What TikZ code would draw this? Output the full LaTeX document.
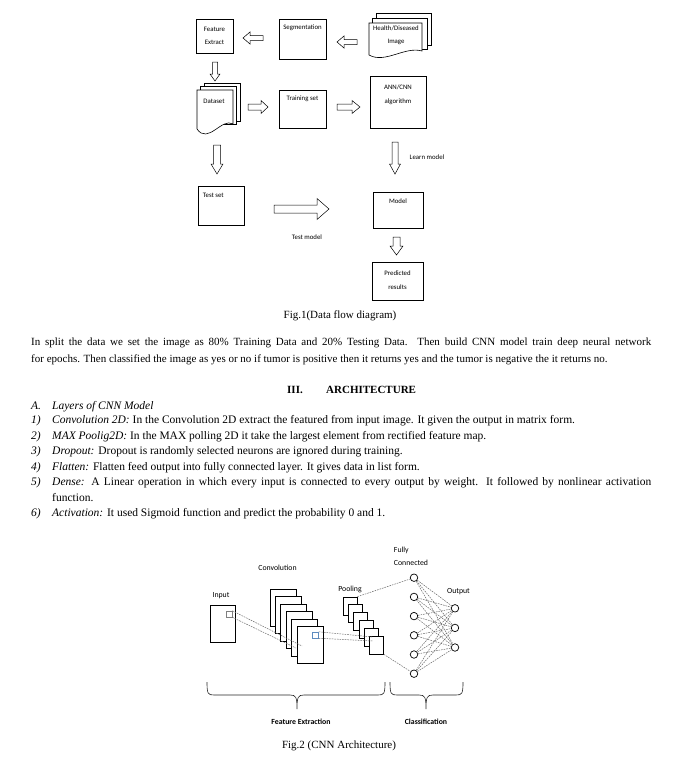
\documentclass[tikz,border=0pt]{standalone}
\usepackage{fontspec}
\setmainfont{Liberation Serif}
\newfontfamily\calibfont{Carlito}
\usepackage{xcolor}
\usetikzlibrary{positioning,calc}
\definecolor{winBlue}{HTML}{5E8CBF}
\definecolor{wireGray}{HTML}{6A6A6A}

\tikzset{
  flowbox/.style={draw, line width=0.6pt, fill=white, inner sep=0pt},
  boxtxt/.style={font=\calibfont\fontsize{6.8}{13.5}\selectfont, align=center, inner sep=0pt},
  cnntxt/.style={font=\calibfont\fontsize{7.8}{13}\selectfont, inner sep=0pt},
  bodytxt/.style={font=\fontsize{11}{13}\selectfont, anchor=west, inner sep=0pt, text height=7.5pt, text depth=2.5pt},
  listtxt/.style={bodytxt, font=\fontsize{11.5}{13}\selectfont},
  headtxt/.style={bodytxt, font=\fontsize{11}{13}\selectfont\bfseries},
  captxt/.style={font=\fontsize{11}{13}\selectfont, inner sep=0pt},
  sheet/.style={draw, line width=0.6pt, fill=white},
  fmap/.style={draw, line width=0.7pt, fill=white, inner sep=0pt},
  neuron/.style={circle, draw, line width=0.7pt, fill=white, minimum size=7.5pt, inner sep=0pt},
  wire/.style={draw=wireGray, line width=0.5pt, dash pattern=on 1.6pt off 1pt},
  bracket/.style={draw=black!85, line width=0.6pt},
  pics/fatarrow/.style n args={4}{code={
    \draw[line width=0.5pt, fill=white] (0,-#2) -- (#1-#4,-#2) -- (#1-#4,-#3)
      -- (#1,0) -- (#1-#4,#3) -- (#1-#4,#2) -- (0,#2) -- cycle;}},
}

\begin{document}
\begin{tikzpicture}[x=1pt, y=-1pt]
\fill[white] (0,0) rectangle (677,758);
\useasboundingbox (0,0) rectangle (677,758);
% ---------- Fig.1 : data flow ----------
% health/diseased image, three stacked sheets
\draw[sheet] (376,13) rectangle (431,45);
\draw[sheet] (372.5,18) rectangle (427,49);
\draw[sheet] (369,55) -- (369,23) -- (422,23) -- (422,51)
  .. controls (405,46) and (385,64) .. (369,55) -- cycle;
\node[boxtxt] (health) at (396,35) {Health/Diseased\\Image};
% dataset, three stacked sheets
\draw[sheet] (204,83) rectangle (240,121);
\draw[sheet] (200.5,86.5) rectangle (236.5,124);
\draw[sheet] (197,129) -- (197,90) -- (233,90) -- (233,124)
  .. controls (222,117) and (208,145) .. (197,129) -- cycle;
\node[boxtxt] (dataset) at (214,101) {Dataset};
% plain boxes
\node[flowbox, minimum width=37pt, minimum height=34pt,
  label={[boxtxt, below=8pt]north:Feature\\Extract}] (feat) at (214.5,36) {};
\node[flowbox, minimum width=47pt, minimum height=40pt,
  label={[boxtxt, below=6pt]north:Segmentation}] (seg) at (302.5,39) {};
\node[flowbox, minimum width=47pt, minimum height=38pt,
  label={[boxtxt, below=6pt]north:Training set}] (train) at (302.5,109) {};
\node[flowbox, minimum width=56pt, minimum height=52pt,
  label={[boxtxt, below=9pt]north:ANN/CNN\\algorithm}] (ann) at (398,102) {};
\node[flowbox, minimum width=46pt, minimum height=39pt,
  label={[boxtxt, anchor=north west, xshift=5pt, yshift=-7pt]north west:Test set}] (test) at (221,205.5) {};
\node[flowbox, minimum width=50pt, minimum height=36pt,
  label={[boxtxt, below=7pt]north:Model}] (model) at (398,210) {};
\node[flowbox, minimum width=51pt, minimum height=38pt,
  label={[boxtxt, below=9pt]north:Predicted\\results}] (pred) at (397.5,281) {};
% block arrows
\pic[rotate=180] at (263,38) {fatarrow={20}{2.5}{6}{7}};
\pic[rotate=180] at (357,42) {fatarrow={20}{2.5}{6}{7}};
\pic[rotate=-90] at (215,62) {fatarrow={19}{2.5}{5}{7}};
\pic at (248,107) {fatarrow={20}{3}{6.5}{7}};
\pic at (337,107) {fatarrow={23}{3}{6.5}{8}};
\pic[rotate=-90] at (217,145) {fatarrow={29}{3.5}{6}{10}};
\pic[rotate=-90] at (395,142) {fatarrow={32}{3}{5.5}{10}};
\pic at (274,209) {fatarrow={55}{4}{10.5}{12}};
\pic[rotate=-90] at (396.5,237) {fatarrow={18}{3.5}{6.5}{9}};
\node[boxtxt] (learn) at (427,157) {Learn model};
\node[boxtxt] (testm) at (307,237) {Test model};
\node[captxt] (fig1) at (340,316) {Fig.1(Data flow diagram)};

% ---------- text ----------
\node[bodytxt] (par1) at (31,343) {\makebox[620pt][s]{In split the data we set the image as 80\% Training Data and 20\% Testing Data. Then build CNN model train deep neural network}};
\node[bodytxt] (par2) at (31,360) {for epochs. Then classified the image as yes or no if tumor is positive then it returns yes and the tumor is negative the it returns no.};
\node[headtxt] (secnum) at (287,391) {III.};
\node[headtxt] (sectitle) at (326,391) {ARCHITECTURE};
\node[listtxt] (labA) at (31,407) {\textit{A.}};
\node[listtxt] (itA) at (52,407) {\textit{Layers of CNN Model}};
\node[listtxt] (lab1) at (31,421) {\textit{1)}};
\node[listtxt] (it1) at (52,421) {\textit{Convolution 2D:} In the Convolution 2D extract the featured from input image. It given the output in matrix form.};
\node[listtxt] (lab2) at (31,437) {\textit{2)}};
\node[listtxt] (it2) at (52,437) {\textit{MAX Poolig2D:} In the MAX polling 2D it take the largest element from rectified feature map.};
\node[listtxt] (lab3) at (31,452) {\textit{3)}};
\node[listtxt] (it3) at (52,452) {\textit{Dropout:} Dropout is randomly selected neurons are ignored during training.};
\node[listtxt] (lab4) at (31,468) {\textit{4)}};
\node[listtxt] (it4) at (52,468) {\textit{Flatten:} Flatten feed output into fully connected layer. It gives data in list form.};
\node[listtxt] (lab5) at (31,483) {\textit{5)}};
\node[listtxt] (it5) at (52,483) {\makebox[599pt][s]{\textit{Dense:} A Linear operation in which every input is connected to every output by weight. It followed by nonlinear activation}};
\node[listtxt] (it5b) at (52,499) {function.};
\node[listtxt] (lab6) at (31,514) {\textit{6)}};
\node[listtxt] (it6) at (52,514) {\textit{Activation:} It used Sigmoid function and predict the probability 0 and 1.};

% ---------- Fig.2 : CNN ----------
\node[fmap, minimum width=25pt, minimum height=37pt] (inp) at (222.5,623.5) {};
\node[draw=gray, line width=0.5pt, minimum size=6pt, inner sep=0pt] (inpwin) at (229,614) {};
\foreach \i in {0,...,5}
  \node[fmap, minimum width=26pt, minimum height=37pt] (conv\i) at ({283+5.4*\i},{607.5+7.5*\i}) {};
\node[draw=winBlue, line width=0.5pt, minimum size=6pt, inner sep=0pt] (convwin) at (315.5,635) {};
\foreach \i in {0,...,5}
  \node[fmap, minimum width=14pt, minimum height=18pt] (pool\i) at ({350+5.3*\i},{606+7.8*\i}) {};
\foreach \j in {1,...,6}
  \node[neuron] (fc\j) at (414,{558.5+19.2*\j}) {};
\foreach \k in {1,...,3}
  \node[neuron] (out\k) at (455,{588.7+19.6*\k}) {};
\coordinate (convhitA) at (302,646);
\coordinate (convhitB) at (296,648);
\coordinate (poolhitA) at (372,637);
\coordinate (poolhitB) at (373,641);
\draw[wire] (inpwin.north east) -- (convhitA);
\draw[wire] (inpwin.south east) -- (convhitB);
\draw[wire] (convwin.north east) -- (poolhitA);
\draw[wire] (convwin.south east) -- (poolhitB);
\draw[wire] (pool0.north east) -- (fc1);
\draw[wire] (pool5.south east) -- (fc6);
\foreach \j in {1,...,6}
  \foreach \k in {1,...,3}
    \draw[wire] (fc\j) -- (out\k);
\node[cnntxt] (inplbl) at (221,596) {Input};
\node[cnntxt] (convlbl) at (277.5,568) {Convolution};
\node[cnntxt] (poollbl) at (350,589) {Pooling};
\node[cnntxt, align=left] (fclbl) at (411,556) {Fully\\Connected};
\node[cnntxt] (outlbl) at (458.5,592) {Output};
% braces
\draw[bracket] (207,682) .. controls (207,694) and (208,695) .. (214,695) -- (290,695)
  .. controls (296,695) and (297,697) .. (297,709) .. controls (297,697) and (298,695) .. (304,695)
  -- (378,695) .. controls (384,695) and (385,694) .. (385,682);
\draw[bracket] (390,682) .. controls (390,694) and (391,695) .. (397,695) -- (419,695)
  .. controls (425,695) and (426,697) .. (426,709) .. controls (426,697) and (427,695) .. (433,695)
  -- (456,695) .. controls (462,695) and (463,694) .. (463,682);
\node[cnntxt, font=\calibfont\bfseries\fontsize{7.8}{13}\selectfont] (felbl) at (301,722) {Feature Extraction};
\node[cnntxt, font=\calibfont\bfseries\fontsize{7.8}{13}\selectfont] (cllbl) at (426,722) {Classification};
\node[captxt] (fig2) at (339,746) {Fig.2 (CNN Architecture)};
\end{tikzpicture}
\end{document}
